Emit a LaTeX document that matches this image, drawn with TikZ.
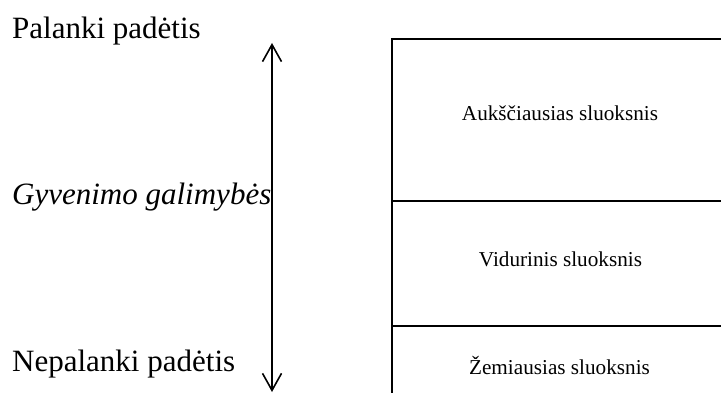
\documentclass[tikz,border=0pt]{standalone}
\usepackage{fontspec}
\setmainfont{Liberation Serif}
\usepackage{tikz}
\usetikzlibrary{arrows.meta}
\newcommand{\bigtxt}{\fontsize{31}{37}\selectfont}
\newcommand{\smalltxt}{\fontsize{21.2}{25}\selectfont}
\newcommand{\boxleft}{392}
\newcommand{\boxright}{722}
\tikzset{chance/.style={line width=1.6pt, {Straight Barb[length=17pt,width=19pt,line width=1.6pt]}-{Straight Barb[length=17pt,width=19pt,line width=1.6pt]}}}
\tikzset{layerline/.style={line width=1.8pt}}
\tikzset{layertxt/.style={anchor=base, inner sep=0pt, font=\smalltxt}}
\tikzset{sidetxt/.style={anchor=base west, inner sep=0pt, font=\bigtxt}}

\begin{document}
\begin{tikzpicture}[x=1pt, y=-1pt]
  \useasboundingbox (0,0) rectangle (721,393);

  % --- left labels and arrow ---
  \node[sidetxt] (good) at (12,38.7) {Palanki padėtis};
  \node[sidetxt] (bad) at (12,371.7) {Nepalanki padėtis};
  \node[sidetxt, font=\bigtxt\itshape] (chances) at (12,205) {Gyvenimo galimybės};

  \coordinate (top) at (272,43);
  \coordinate (bot) at (272,392);
  \draw[chance] (bot) -- (top);

  % --- layers ---
  \coordinate (l0) at (\boxleft,39);
  \coordinate (l1) at (\boxleft,201);
  \coordinate (l2) at (\boxleft,326);
  \coordinate (l3) at (\boxleft,394);
  \draw[layerline] (l3) -- (l0) -- (\boxright,39);
  \draw[layerline] (l1) -- (\boxright,201);
  \draw[layerline] (l2) -- (\boxright,326);

  \node[layertxt] (high) at (560,121) {Aukščiausias sluoksnis};
  \node[layertxt] (mid) at (560.5,266.7) {Vidurinis sluoksnis};
  \node[layertxt] (low) at (559.5,374) {Žemiausias sluoksnis};

\end{tikzpicture}
\end{document}
